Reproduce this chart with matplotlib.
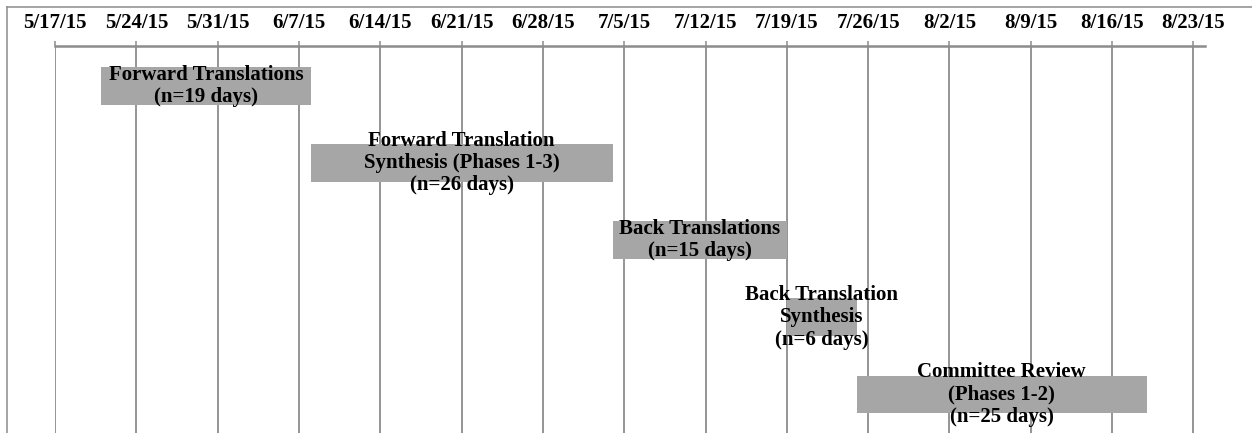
import datetime as dt
from matplotlib import pyplot as plt
from matplotlib.lines import Line2D
import matplotlib.dates as mdates

# task rows, top to bottom
tasks = ["Forward Translations\n(n=19 days)",
         "Forward Translation\nSynthesis (Phases 1-3)\n(n=26 days)",
         "Back Translations\n(n=15 days)",
         "Back Translation\nSynthesis\n(n=6 days)",
         "Committee Review\n(Phases 1-2)\n(n=25 days)"]
starts = ["2015-05-21", "2015-06-08", "2015-07-04", "2015-07-19", "2015-07-25"]
ends = ["2015-06-08", "2015-07-04", "2015-07-19", "2015-07-25", "2015-08-19"]

tick_start = "2015-05-17"
tick_end = "2015-08-23"
axis_end = "2015-08-24"

grey = "#8c8c8c"
bar_col = "#a6a6a6"
font = "Liberation Serif"

def d(s):
    return mdates.date2num(dt.datetime.strptime(s, "%Y-%m-%d"))

fig = plt.figure(figsize=(12.52, 4.33), dpi=100, facecolor="white")
ax = fig.add_axes([55 / 1252, 0, 1150 / 1252, (433 - 46) / 433])

for i, (name, s, e) in enumerate(zip(tasks, starts, ends)):
    ax.barh(i, d(e) - d(s), left=d(s), height=0.49, color=bar_col, zorder=2)
    ax.text((d(s) + d(e)) / 2, i, name, ha="center", va="center",
            fontsize=15, fontweight="bold", family=font, zorder=3,
            linespacing=1.15)

ticks = []
t = d(tick_start)
while t <= d(tick_end):
    ticks.append(t)
    t += 7
ax.set_xticks(ticks)
ax.set_xticklabels([mdates.num2date(x).strftime("%-m/%-d/%y") for x in ticks],
                   fontsize=15, fontweight="bold", family=font)
ax.set_xlim(d(tick_start), d(axis_end))
ax.set_ylim(4.5, -0.52)
ax.set_yticks([])

ax.xaxis.tick_top()
ax.tick_params(axis="x", direction="out", length=3.6, width=1.1, color=grey, pad=6)
ax.grid(True, axis="x", color=grey, linewidth=1.3)
ax.set_axisbelow(True)

for side in ["left", "right", "bottom"]:
    ax.spines[side].set_visible(False)
ax.spines["top"].set_color(grey)
ax.spines["top"].set_linewidth(1.8)

# thin frame at top and left of the picture
fig.add_artist(Line2D([7 / 1252, 1], [1 - 7 / 433, 1 - 7 / 433], color=grey, lw=1.1))
fig.add_artist(Line2D([7 / 1252, 7 / 1252], [0, 1 - 7 / 433], color=grey, lw=1.1))

fig.savefig("out.png", dpi=100, facecolor="white")
